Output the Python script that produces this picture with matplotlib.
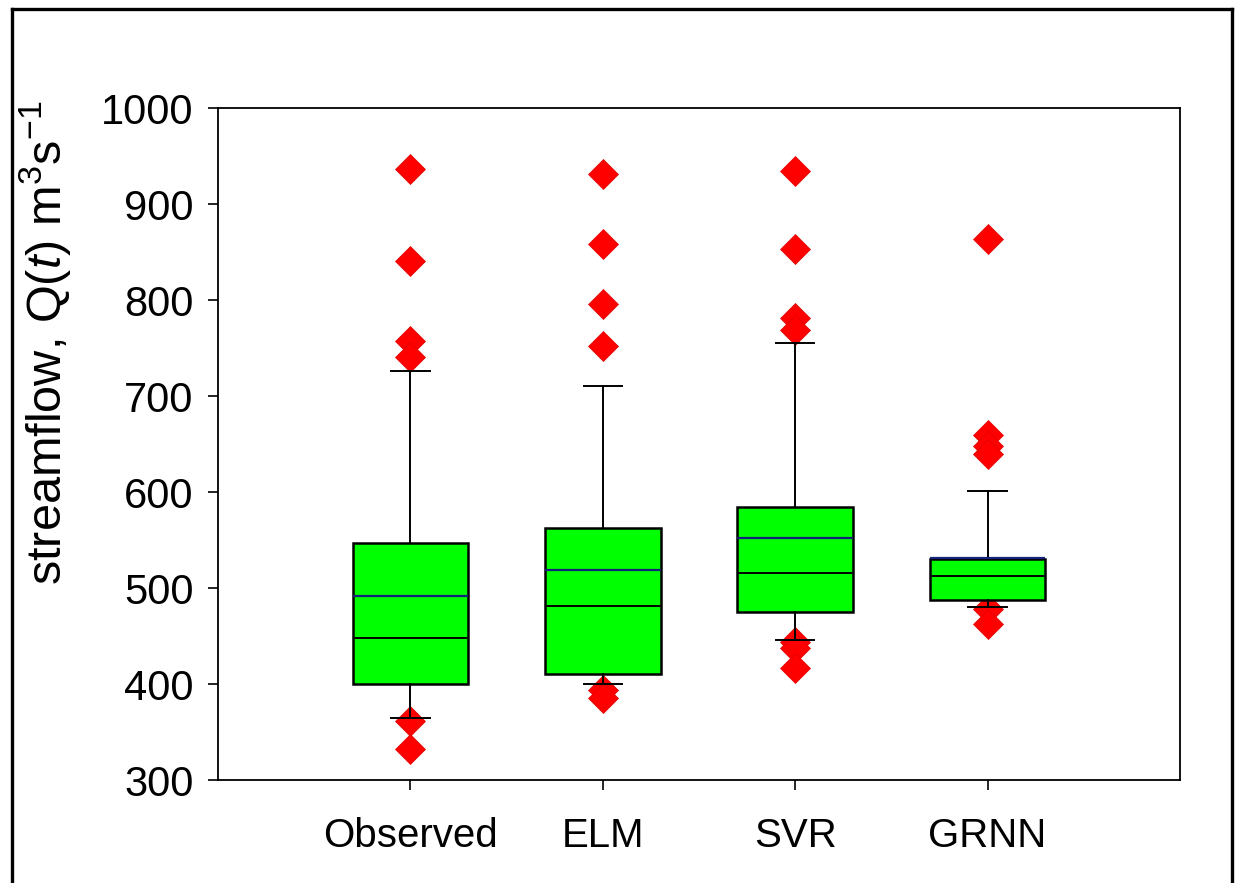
import matplotlib
matplotlib.use("Agg")
import matplotlib.pyplot as plt
from matplotlib.lines import Line2D

plt.rcParams['font.family'] = ['Liberation Sans', 'DejaVu Sans']
plt.rcParams['mathtext.fontset'] = 'custom'
plt.rcParams['mathtext.rm'] = 'Liberation Sans'
plt.rcParams['mathtext.it'] = 'Liberation Sans:italic'

# ---- data ----
categories = ['Observed', 'ELM', 'SVR', 'GRNN']
q1 = [400, 410, 475, 487]
q3 = [547, 563, 584, 530]
medians = [448, 481, 516, 512]
means = [492, 519, 552, 531]
whisker_low = [365, 400, 446, 480]
whisker_high = [726, 710, 755, 601]
outliers_observed = [936, 841, 757, 741, 361, 332]
outliers_elm = [931, 858, 796, 752, 394, 385]
outliers_svr = [934, 853, 781, 769, 444, 437, 417]
outliers_grnn = [864, 659, 648, 640, 478, 463]
outliers = [outliers_observed, outliers_elm, outliers_svr, outliers_grnn]
yticks = [300, 400, 500, 600, 700, 800, 900, 1000]

W, H = 1235, 883
fig = plt.figure(figsize=(W / 100, H / 100), dpi=100)
ax = fig.add_axes([218 / W, 1 - 780 / H, (1180 - 218) / W, (780 - 108) / H])

stats = []
for i, c in enumerate(categories):
    stats.append(dict(label=c, med=medians[i], q1=q1[i], q3=q3[i],
                      whislo=whisker_low[i], whishi=whisker_high[i],
                      mean=means[i], fliers=outliers[i]))

positions = list(range(1, len(categories) + 1))
res = ax.bxp(stats, positions=positions, widths=0.6, capwidths=0.2,
             patch_artist=True, showmeans=True, meanline=True,
             boxprops=dict(facecolor='#00ff00', edgecolor='black', linewidth=1.8),
             medianprops=dict(color='black', linewidth=1.4),
             meanprops=dict(color='#14237a', linewidth=1.6, linestyle='-'),
             whiskerprops=dict(color='black', linewidth=1.4),
             capprops=dict(color='black', linewidth=1.4),
             flierprops=dict(marker='D', markerfacecolor='#ff0000',
                             markeredgecolor='#e00000', markeredgewidth=0.5,
                             markersize=15, linestyle='none'))
for f in res['fliers']:
    f.set_zorder(1.5)

ax.set_xlim(0, 5)
ax.set_ylim(300, 1000)
ax.set_yticks(yticks)
ax.set_xticks(positions)
ax.set_xticklabels(categories)
for s in ax.spines.values():
    s.set_linewidth(1.3)
ax.tick_params(axis='y', direction='out', length=7.5, width=1.2, labelsize=30, pad=10)
ax.tick_params(axis='x', direction='out', length=7.5, width=1.2, labelsize=29, pad=19)
ax.tick_params(top=False, right=False)

fig.text(45 / W, 1 - 343 / H, r'streamflow, Q($\mathit{t}$) m$^{3}$s$^{-1}$',
         rotation=90, ha='center', va='center', fontsize=35)

# outer frame
lw = 2.4
fig.add_artist(Line2D([12 / W, 12 / W], [0, 1 - 9 / H], transform=fig.transFigure,
                      color='black', linewidth=lw))
fig.add_artist(Line2D([12 / W, 1232 / W], [1 - 9 / H, 1 - 9 / H], transform=fig.transFigure,
                      color='black', linewidth=lw))
fig.add_artist(Line2D([1232 / W, 1232 / W], [0, 1 - 9 / H], transform=fig.transFigure,
                      color='black', linewidth=lw))

fig.savefig('out.png', dpi=100)
